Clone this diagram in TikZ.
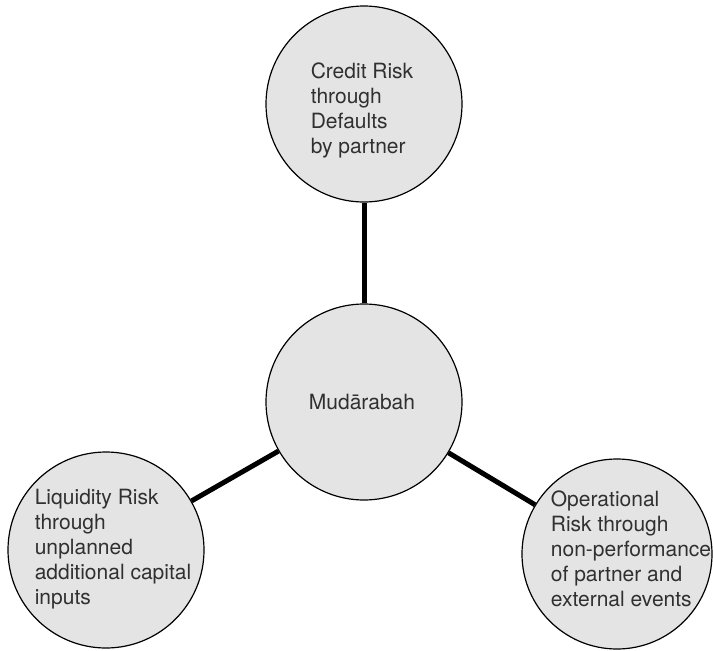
\documentclass[tikz,border=0pt]{standalone}
\usepackage{fontspec}
\setmainfont{TeX Gyre Heros}
\definecolor{bubblefill}{HTML}{E4E4E4}
\definecolor{bubbletext}{HTML}{303030}
\tikzset{
    bubble/.style={circle, draw=black, line width=1.2pt, fill=bubblefill, minimum size=196pt, inner sep=0pt},
    bubbletxt/.style={inner sep=0pt, align=left, text=bubbletext, font=\fontsize{21}{25}\selectfont},
    spoke/.style={line width=5pt, black}
}
\begin{document}
\begin{tikzpicture}[x=1pt, y=-1pt]
                \useasboundingbox (0,0) rectangle (713,651);
                \node[bubble] (hub) at (364,402) {};
                \node[bubble] (credit) at (364,104) {};
                \node[bubble] (liquidity) at (106,550) {};
                \node[bubble, minimum size=190pt] (operational) at (617,554) {};
                \draw[spoke] (hub) -- (credit);
                \draw[spoke] (hub) -- (liquidity);
                \draw[spoke] (hub) -- (operational);
                \node[bubbletxt] (hubtext) at (362,402) {Mudārabah};
                \node[bubbletxt] (credittext) at (362,110) {Credit Risk\\through\\Defaults\\by partner};
                \node[bubbletxt] (liquiditytext) at (113,549) {Liquidity Risk\\through\\unplanned\\additional capital\\inputs};
                \node[bubbletxt] (operationaltext) at (631,549) {Operational\\Risk through\\non-performance\\of partner and\\external events};
            \end{tikzpicture}
\end{document}
